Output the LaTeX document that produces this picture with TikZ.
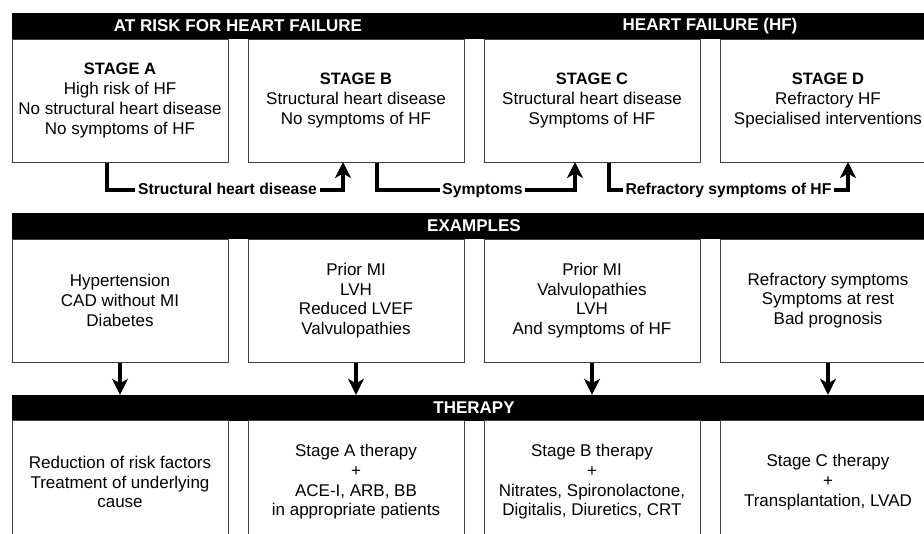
\documentclass[tikz,border=0pt]{standalone}
\usepackage{fontspec}
\setmainfont{Liberation Sans}
\usetikzlibrary{arrows.meta}

\begin{document}
\begin{tikzpicture}
  [x=1pt, y=-1pt,
   stagebox/.style={rectangle, draw=black!75, line width=1pt, minimum width=216pt, minimum height=123pt,
                    align=center, inner sep=0pt, font=\fontsize{17}{19.7}\selectfont},
   headbar/.style={rectangle, fill=black, minimum width=924pt, minimum height=26pt, inner sep=0pt},
   headtext/.style={text=white, inner sep=0pt, font=\bfseries\fontsize{17}{20}\selectfont},
   steplabel/.style={inner sep=2.5pt, text height=11.5pt, text depth=3pt, font=\bfseries\fontsize{15.7}{18}\selectfont},
   link/.style={line width=3.2pt, draw=black},
   flow/.style={link, -{Stealth[length=16pt, width=16pt, inset=4.5pt]}}]

  \useasboundingbox (0,0) rectangle (924,533);
  \clip (0,0) rectangle (924,533);

  % Balken
  \node[headbar] (topbar) at (474,26) {};
  \node[headbar] (exbar) at (474,226) {};
  \node[headbar] (thbar) at (474,408) {};
  \node[headtext] at (238,26) {AT RISK FOR HEART FAILURE};
  \node[headtext] at (710,26) {HEART FAILURE (HF)};
  \node[headtext] at (474,226) {EXAMPLES};
  \node[headtext] at (474,408) {THERAPY};

  % Stadien
  \node[stagebox] (stA) at (120,100.5) {{\bfseries\fontsize{16.5}{19.7}\selectfont STAGE A}\\High risk of HF\\No structural heart disease\\No symptoms of HF};
  \node[stagebox] (stB) at (356,100.5) {{\bfseries\fontsize{16.5}{19.7}\selectfont STAGE B}\\Structural heart disease\\No symptoms of HF};
  \node[stagebox] (stC) at (592,100.5) {{\bfseries\fontsize{16.5}{19.7}\selectfont STAGE C}\\Structural heart disease\\Symptoms of HF};
  \node[stagebox] (stD) at (828,100.5) {{\bfseries\fontsize{16.5}{19.7}\selectfont STAGE D}\\Refractory HF\\Specialised interventions};

  % Beispiele
  \node[stagebox] (exA) at (120,300.5) {Hypertension\\CAD without MI\\Diabetes};
  \node[stagebox] (exB) at (356,300.5) {Prior MI\\LVH\\Reduced LVEF\\Valvulopathies};
  \node[stagebox] (exC) at (592,300.5) {Prior MI\\Valvulopathies\\LVH\\And symptoms of HF};
  \node[stagebox] (exD) at (828,300.5) {Refractory symptoms\\Symptoms at rest\\Bad prognosis};

  % Therapie
  \node[stagebox] (thA) at (120,482) {Reduction of risk factors\\Treatment of underlying\\cause};
  \node[stagebox] (thB) at (356,482) {Stage A therapy\\+\\ACE-I, ARB, BB\\in appropriate patients};
  \node[stagebox] (thC) at (592,482) {Stage B therapy\\+\\Nitrates, Spironolactone,\\Digitalis, Diuretics, CRT};
  \node[stagebox] (thD) at (828,482) {Stage C therapy\\+\\Transplantation, LVAD};

  % Uebergaenge zwischen den Stadien
  \coordinate (ab1) at (107,163);
  \coordinate (ab2) at (343,162);
  \coordinate (bc1) at (377,163);
  \coordinate (bc2) at (575,162);
  \coordinate (cd1) at (609,163);
  \coordinate (cd2) at (848,162);
  \node[steplabel] (lblAB) at (227.5,190) {Structural heart disease};
  \node[steplabel] (lblBC) at (482.5,190) {Symptoms};
  \node[steplabel] (lblCD) at (728.5,190) {Refractory symptoms of HF};

  \foreach \from/\lbl/\to in {ab1/lblAB/ab2, bc1/lblBC/bc2, cd1/lblCD/cd2} {
    \draw[link] (\from) |- (\lbl.west);
    \draw[flow] (\lbl.east) -| (\to);
  }

  % Pfeile zur Therapie
  \foreach \n in {A,B,C,D}
    \draw[flow] (ex\n.south) -- (ex\n.south |- thbar.north);
\end{tikzpicture}
\end{document}
